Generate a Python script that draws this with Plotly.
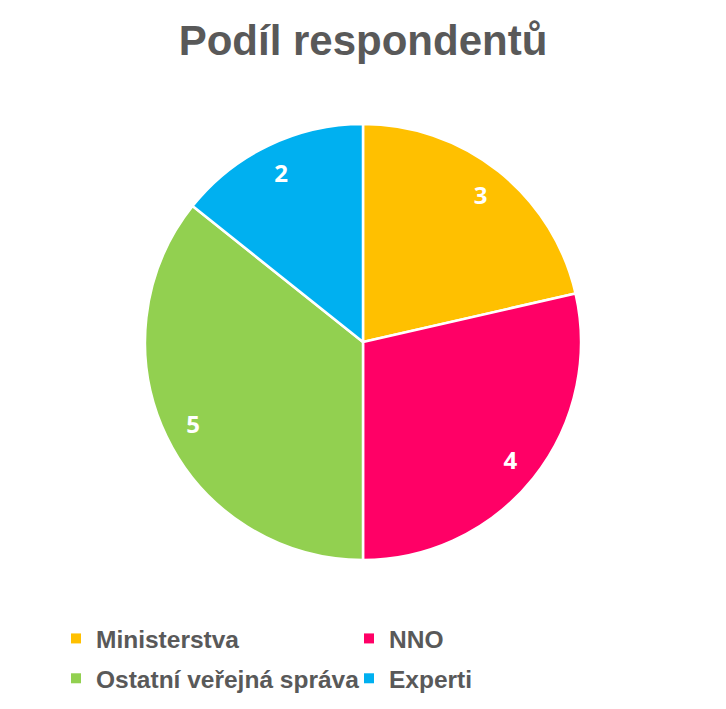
import plotly.graph_objects as go

categories = ["Ministerstva", "NNO", "Ostatní veřejná správa", "Experti"]
values = [3, 4, 5, 2]
colors = ["#FFC000", "#FF0066", "#92D050", "#00B0F0"]

W, H = 726, 709
OFF = 8  # page body margin
cx, cy, r = 363 - OFF, 342 - OFF, 218

dom = dict(x=[(cx - r) / W, (cx + r) / W], y=[(H - cy - r) / H, (H - cy + r) / H])

fig = go.Figure()
# main pie (slices)
fig.add_trace(go.Pie(
    labels=categories, values=values, sort=False, direction="clockwise", rotation=0,
    marker=dict(colors=colors, line=dict(color="white", width=2.5)),
    textinfo="none", domain=dom, showlegend=False, hoverinfo="label+value",
))
# transparent ring carrying the value labels further out
fig.add_trace(go.Pie(
    labels=categories, values=values, sort=False, direction="clockwise", rotation=0,
    hole=0.73,
    marker=dict(colors=["rgba(0,0,0,0)"] * 4, line=dict(width=0)),
    textinfo="value", textposition="inside",
    insidetextfont=dict(family="Open Sans", size=24, color="white", weight="bold"),
    domain=dom, showlegend=False, hoverinfo="skip",
))
# legend entries (two columns)
for i, (name, col) in enumerate(zip(categories, colors)):
    fig.add_trace(go.Scatter(
        x=[None], y=[None], mode="markers", name=name,
        marker=dict(symbol="square", size=10, color=col),
        legend="legend" if i % 2 == 0 else "legend2",
        legendgroup=f"g{i}",
    ))

leg_font = dict(family="Liberation Sans", size=24.5, color="#595959", weight="bold")
fig.update_layout(
    width=W, height=H,
    margin=dict(l=0, r=0, t=0, b=0),
    paper_bgcolor="white", plot_bgcolor="white",
    font=dict(family="Liberation Sans", color="#595959"),
    xaxis=dict(visible=False), yaxis=dict(visible=False),
    title=dict(
        text="<b>Podíl respondentů</b>",
        font=dict(family="Liberation Sans", size=42, color="#595959"),
        x=(363 - OFF) / W, xanchor="center", y=1 - (40 - OFF) / H, yanchor="middle",
    ),
    legend=dict(
        orientation="v", x=(79 - 31) / W, xanchor="left",
        y=1 - 608 / H, yanchor="top", font=leg_font,
        tracegroupgap=5, itemclick=False, bgcolor="rgba(0,0,0,0)",
    ),
    legend2=dict(
        orientation="v", x=(372 - 31) / W, xanchor="left",
        y=1 - 608 / H, yanchor="top", font=leg_font,
        tracegroupgap=5, itemclick=False, bgcolor="rgba(0,0,0,0)",
    ),
)

fig.write_html("out.html")
